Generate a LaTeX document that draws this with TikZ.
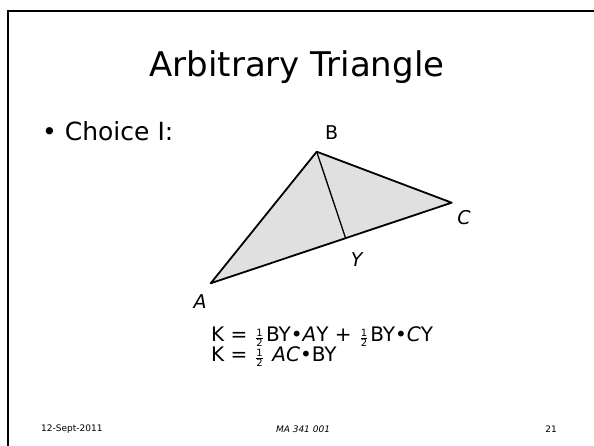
\documentclass[tikz,border=0pt]{standalone}
\usepackage{amsmath}
\usepackage{fontspec}
\setmainfont{DejaVu Sans}
\usetikzlibrary{calc}
\definecolor{trifill}{RGB}{224,224,224}
\newcommand{\halffrac}{\kern1.5pt$\genfrac{}{}{0.6pt}{2}{\text{1}}{\text{2}}$\kern2pt}

\begin{document}
\begin{tikzpicture}[
  x=1pt,y=-1pt,
  vlabel/.style={inner sep=0pt,font=\fontsize{19}{22}\selectfont},
  eqn/.style={anchor=base west,inner sep=0pt,font=\fontsize{20}{20}\selectfont},
  foot/.style={inner sep=0pt,font=\fontsize{9}{10}\selectfont}
]
\useasboundingbox (0,0) rectangle (594,446);
\draw[line width=2pt] (594,11) -- (8,11) -- (8,446);
\node[anchor=base,inner sep=0pt,font=\fontsize{34}{40}\selectfont] (title) at (297,76.7) {Arbitrary Triangle};
\node[anchor=base west,inner sep=0pt,font=\fontsize{25}{30}\selectfont] (choice) at (42,141) {\textbullet\ Choice I:};
\coordinate (A) at (210.7,283.3);
\coordinate (B) at (316.7,151.7);
\coordinate (C) at (451.7,202.7);
\coordinate (Y) at ($(A)!(B)!(C)$);
\filldraw[fill=trifill,line width=1.8pt,line join=round] (A) -- (B) -- (C) -- cycle;
\draw[line width=1.3pt] (B) -- (Y);
\node[vlabel] (lblB) at (331.7,132.3) {B};
\node[vlabel] (lblC) at (464,217.5) {\itshape C};
\node[vlabel] (lblY) at (356.7,260) {\itshape Y};
\node[vlabel] (lblA) at (200,301.7) {\itshape A};
\node[eqn] (eqsum) at (211,341.7) {K = \halffrac BY\textbullet\textit{A}Y + \halffrac BY\textbullet\textit{C}Y};
\node[eqn] (eqbase) at (211,361.7) {K = \halffrac\ \textit{AC}\textbullet BY};
\node[foot,anchor=west] (date) at (41,429) {12-Sept-2011};
\node[foot] (course) at (303,429) {\itshape MA 341 001};
\node[foot] (page) at (551,429) {21};
\end{tikzpicture}
\end{document}
